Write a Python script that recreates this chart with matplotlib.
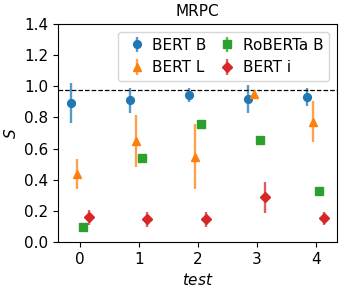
import matplotlib
matplotlib.use("Agg")
import matplotlib.pyplot as plt
import numpy as np

tests = np.arange(5)

# mean S and error per model
bert_b = [0.893, 0.910, 0.942, 0.918, 0.931]
bert_b_err = [0.13, 0.08, 0.045, 0.09, 0.06]
bert_l = [0.435, 0.649, 0.548, 0.950, 0.773]
bert_l_err = [0.095, 0.166, 0.21, 0.02, 0.13]
roberta_b = [0.100, 0.537, 0.756, 0.653, 0.326]
roberta_b_err = [0.0, 0.0, 0.0, 0.0, 0.0]
bert_i = [0.159, 0.146, 0.146, 0.287, 0.152]
bert_i_err = [0.047, 0.05, 0.05, 0.10, 0.042]

baseline = 0.975

plt.rcParams['font.size'] = 11

fig, ax = plt.subplots(figsize=(3.44, 2.91), dpi=100)

ms = 5.6
ax.errorbar(tests - 0.15, bert_b, yerr=bert_b_err, fmt='o', color='C0', ms=ms,
            elinewidth=1.7, ecolor=(0.12, 0.47, 0.71, 0.75), label='BERT B')
ax.errorbar(tests - 0.05, bert_l, yerr=bert_l_err, fmt='^', color='C1', ms=ms + 0.5,
            elinewidth=1.7, ecolor=(1.0, 0.5, 0.05, 0.75), label='BERT L')
ax.errorbar(tests + 0.05, roberta_b, yerr=roberta_b_err, fmt='s', color='C2', ms=ms - 0.3,
            elinewidth=1.7, ecolor=(0.17, 0.63, 0.17, 0.75), label='RoBERTa B')
ax.errorbar(tests + 0.15, bert_i, yerr=bert_i_err, fmt='D', color='C3', ms=ms - 0.3,
            elinewidth=1.7, ecolor=(0.84, 0.15, 0.16, 0.75), label='BERT i')

ax.axhline(baseline, color='black', linestyle='--', linewidth=0.9)

ax.set_ylim(0, 1.4)
ax.set_xticks(tests)
ax.set_xlabel('$test$', fontsize=11)
ax.set_ylabel('$S$', fontsize=11)
ax.set_title('MRPC', fontsize=11)
ax.legend(ncol=2, loc='upper right', handlelength=1.7, handletextpad=0.15,
          columnspacing=0.5, borderpad=0.4)

fig.subplots_adjust(left=0.169, right=0.980, bottom=0.168, top=0.918)
fig.savefig('out.png', dpi=100)
